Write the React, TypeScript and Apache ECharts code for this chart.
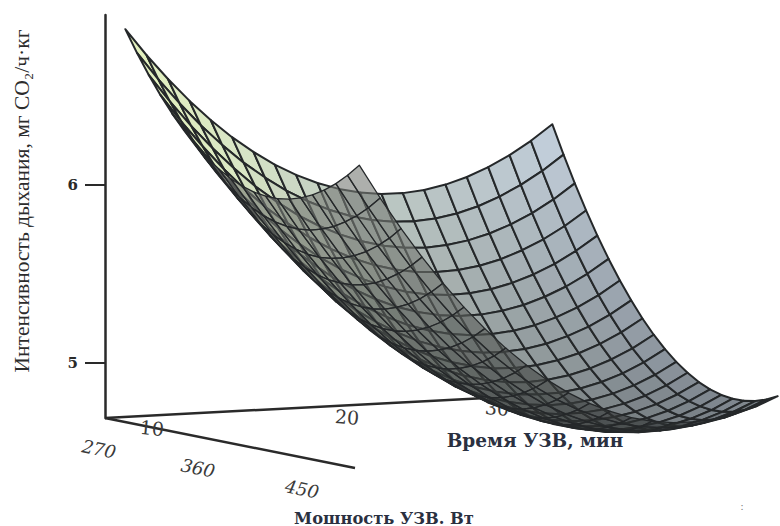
import React, { useEffect, useRef } from "react";
import * as echarts from "echarts";

const TIME = [10, 11, 12, 13, 14, 15, 16, 17, 18, 19, 20, 21, 22, 23, 24, 25, 26, 27, 28, 29, 30];
const POWER = [270, 279, 288, 297, 306, 315, 324, 333, 342, 351, 360, 369, 378, 387, 396, 405, 414, 423, 432, 441, 450];
const RATE = [
  [6.881, 6.728, 6.588, 6.460, 6.345, 6.242, 6.153, 6.075, 6.011, 5.959, 5.919, 5.892, 5.878, 5.876, 5.887, 5.911, 5.947, 5.996, 6.057, 6.131, 6.218],
  [6.761, 6.606, 6.464, 6.334, 6.217, 6.112, 6.022, 5.942, 5.876, 5.822, 5.780, 5.751, 5.735, 5.731, 5.740, 5.762, 5.796, 5.844, 5.903, 5.975, 6.060],
  [6.651, 6.494, 6.350, 6.219, 6.100, 5.993, 5.900, 5.818, 5.750, 5.695, 5.651, 5.620, 5.602, 5.596, 5.604, 5.624, 5.656, 5.701, 5.758, 5.828, 5.912],
  [6.551, 6.392, 6.247, 6.113, 5.992, 5.883, 5.789, 5.705, 5.635, 5.577, 5.532, 5.499, 5.479, 5.472, 5.477, 5.495, 5.525, 5.569, 5.624, 5.692, 5.773],
  [6.461, 6.300, 6.153, 6.017, 5.894, 5.784, 5.687, 5.602, 5.530, 5.470, 5.423, 5.388, 5.366, 5.357, 5.360, 5.376, 5.405, 5.446, 5.499, 5.566, 5.645],
  [6.381, 6.218, 6.069, 5.931, 5.807, 5.694, 5.596, 5.508, 5.435, 5.373, 5.323, 5.287, 5.263, 5.252, 5.253, 5.268, 5.294, 5.334, 5.385, 5.450, 5.527],
  [6.311, 6.147, 5.995, 5.856, 5.729, 5.615, 5.514, 5.425, 5.349, 5.286, 5.234, 5.196, 5.170, 5.157, 5.157, 5.169, 5.194, 5.231, 5.281, 5.343, 5.419],
  [6.251, 6.085, 5.931, 5.790, 5.662, 5.545, 5.443, 5.351, 5.274, 5.209, 5.155, 5.115, 5.088, 5.072, 5.070, 5.080, 5.103, 5.139, 5.186, 5.247, 5.321],
  [6.201, 6.033, 5.877, 5.734, 5.604, 5.486, 5.381, 5.288, 5.209, 5.141, 5.086, 5.044, 5.015, 4.997, 4.993, 5.002, 5.023, 5.056, 5.102, 5.161, 5.232],
  [6.161, 5.991, 5.834, 5.688, 5.556, 5.436, 5.330, 5.235, 5.153, 5.084, 5.027, 4.983, 4.952, 4.933, 4.926, 4.933, 4.952, 4.984, 5.028, 5.084, 5.154],
  [6.131, 5.959, 5.800, 5.653, 5.519, 5.396, 5.288, 5.191, 5.108, 5.037, 4.978, 4.932, 4.899, 4.878, 4.870, 4.874, 4.891, 4.921, 4.963, 5.018, 5.086],
  [6.111, 5.937, 5.776, 5.627, 5.491, 5.367, 5.257, 5.158, 5.073, 5.000, 4.939, 4.891, 4.856, 4.833, 4.823, 4.826, 4.841, 4.869, 4.909, 4.962, 5.028],
  [6.101, 5.925, 5.762, 5.611, 5.473, 5.347, 5.235, 5.135, 5.048, 4.973, 4.910, 4.860, 4.823, 4.798, 4.786, 4.787, 4.800, 4.826, 4.864, 4.916, 4.980],
  [6.101, 5.923, 5.758, 5.606, 5.466, 5.338, 5.224, 5.121, 5.032, 4.956, 4.891, 4.839, 4.800, 4.773, 4.759, 4.759, 4.770, 4.794, 4.830, 4.879, 4.941],
  [6.111, 5.931, 5.765, 5.610, 5.468, 5.338, 5.223, 5.118, 5.027, 4.948, 4.882, 4.828, 4.787, 4.758, 4.743, 4.740, 4.749, 4.771, 4.806, 4.853, 4.913],
  [6.131, 5.949, 5.781, 5.624, 5.480, 5.349, 5.231, 5.124, 5.032, 4.951, 4.882, 4.827, 4.784, 4.754, 4.736, 4.731, 4.739, 4.759, 4.791, 4.837, 4.895],
  [6.161, 5.977, 5.807, 5.648, 5.503, 5.369, 5.250, 5.141, 5.047, 4.964, 4.893, 4.836, 4.791, 4.759, 4.739, 4.733, 4.738, 4.756, 4.787, 4.830, 4.887],
  [6.201, 6.016, 5.843, 5.683, 5.535, 5.400, 5.278, 5.168, 5.071, 4.987, 4.914, 4.855, 4.808, 4.774, 4.752, 4.744, 4.747, 4.764, 4.793, 4.834, 4.889],
  [6.251, 6.064, 5.889, 5.727, 5.577, 5.440, 5.317, 5.204, 5.106, 5.020, 4.945, 4.884, 4.835, 4.799, 4.776, 4.765, 4.767, 4.782, 4.808, 4.848, 4.900],
  [6.311, 6.122, 5.945, 5.781, 5.630, 5.491, 5.365, 5.251, 5.151, 5.062, 4.986, 4.923, 4.873, 4.834, 4.809, 4.797, 4.796, 4.809, 4.834, 4.871, 4.922],
  [6.381, 6.190, 6.012, 5.845, 5.692, 5.551, 5.424, 5.308, 5.205, 5.115, 5.037, 4.972, 4.920, 4.879, 4.852, 4.838, 4.836, 4.847, 4.869, 4.905, 4.954],
];
const Z_TICKS = [5, 6];
const Y_TITLE = "Интенсивность дыхания, мг CO₂/ч·кг";
const TIME_TITLE = "Время УЗВ, мин";
const POWER_TITLE = "Мошность УЗВ. Вт";
const TIME_LABELS = ["10", "20", "30"];
const POWER_LABELS = ["270", "360", "450"];

const clamp = (a: number) => Math.max(0, Math.min(1, a));
const mix = (a: number[], b: number[], k: number) => a.map((c, n) => c + (b[n] - c) * k);

function project(t: number, p: number, z: number): number[] {
  const u = (t - 10) / 20;
  const v = (p - 270) / 180;
  return [t + 10.96 * v - 0.4 * u * v, z + (23 * u - 47 * v - 1) / 178];
}

function renderCell(_: any, api: any) {
  const t = api.value(0);
  const p = api.value(1);
  const z = [api.value(2), api.value(3), api.value(4), api.value(5)];
  const pts = [
    api.coord(project(t, p, z[0])),
    api.coord(project(t + 1, p, z[1])),
    api.coord(project(t + 1, p + 9, z[2])),
    api.coord(project(t, p + 9, z[3])),
  ];
  let area = 0;
  for (let n = 0; n < 4; n++) {
    const a = pts[n];
    const b = pts[(n + 1) % 4];
    area += a[0] * b[1] - b[0] * a[1];
  }
  area /= 2;
  const front = area > 0;
  const u = (t - 10) / 20;
  const avg = (z[0] + z[1] + z[2] + z[3]) / 4;
  let fill: string;
  if (front) {
    const base = u < 0.5
      ? mix([226, 240, 190], [204, 216, 208], u / 0.5)
      : mix([204, 216, 208], [192, 204, 218], (u - 0.5) / 0.5);
    const tone = avg > 5 ? 0.72 + 0.28 * clamp((avg - 5) / 1.1) : 0.72 - (5 - avg) * 0.45;
    const sq = Math.max(clamp(area / 110), clamp((avg - 5.2) / 0.5));
    const k = tone * (0.5 + 0.5 * sq);
    const c = base.map((x) => Math.round(x * k));
    fill = `rgb(${c[0]},${c[1]},${c[2]})`;
  } else {
    const hi = clamp((avg - 4.75) / 1.1);
    const c = mix([42, 45, 46], [118, 122, 116], hi).map(Math.round);
    fill = `rgba(${c[0]},${c[1]},${c[2]},0.6)`;
  }
  return {
    type: "polygon",
    shape: { points: pts },
    z2: front ? 1 : 10,
    style: {
      fill,
      stroke: "#25282a",
      lineWidth: front ? 2 : 1.3,
      lineJoin: "round",
    },
  };
}

const serif = "'Liberation Serif', serif";
const wideSerif = "'DejaVu Serif', serif";

function floorText(text: string, x: number, y: number, rotation: number, italic: boolean, size: number) {
  return {
    type: "text",
    x,
    y,
    rotation,
    silent: true,
    style: {
      text,
      fill: "#3a3a3a",
      font: `${italic ? "italic " : ""}${size}px ${wideSerif}`,
      textAlign: "center",
      textVerticalAlign: "middle",
    },
  };
}

export default function App() {
  const ref = useRef<HTMLDivElement>(null);
  useEffect(() => {
    const chart = echarts.init(ref.current!, undefined, { renderer: "svg" });
    const cells: number[][] = [];
    for (let j = 0; j < POWER.length - 1; j++) {
      for (let i = 0; i < TIME.length - 1; i++) {
        cells.push([TIME[i], POWER[j], RATE[j][i], RATE[j][i + 1], RATE[j + 1][i + 1], RATE[j + 1][i]]);
      }
    }
    chart.setOption({
      animation: false,
      backgroundColor: "#fff",
      grid: { left: 105, right: 0, top: 15, bottom: 108 },
      xAxis: { type: "value", show: false, min: 9.05, max: 40.667 },
      yAxis: {
        type: "value",
        min: 4.691,
        max: 6.955,
        position: "left",
        splitLine: { show: false },
        axisLine: { show: true, lineStyle: { color: "#2a2a2a", width: 2.5 } },
        axisTick: { show: true, customValues: Z_TICKS, length: 20, lineStyle: { color: "#2a2a2a", width: 2 } },
        axisLabel: {
          customValues: Z_TICKS,
          formatter: (v: number) => String(v),
          color: "#2a2a2a",
          fontFamily: wideSerif,
          fontWeight: "bold",
          fontSize: 15,
          margin: 27,
        },
      },
      graphic: [
        { type: "line", silent: true, z: 0, shape: { x1: 105, y1: 418, x2: 525, y2: 396 }, style: { stroke: "#2a2a2a", lineWidth: 2.5 } },
        { type: "line", silent: true, z: 0, shape: { x1: 105, y1: 418, x2: 355, y2: 468 }, style: { stroke: "#2a2a2a", lineWidth: 2.5 } },
        floorText(TIME_LABELS[0], 152, 428, -0.1, false, 19),
        floorText(TIME_LABELS[1], 347, 417, -0.08, false, 19),
        floorText(TIME_LABELS[2], 497, 408, -0.08, false, 19),
        floorText(POWER_LABELS[0], 99, 449, -0.2, true, 18),
        floorText(POWER_LABELS[1], 198, 468, -0.2, true, 18),
        floorText(POWER_LABELS[2], 302, 489, -0.2, true, 18),
        { type: "text", silent: true, x: 22, y: 201, rotation: Math.PI / 2, style: { text: Y_TITLE, fill: "#2c2c2c", font: `21.5px ${serif}`, textAlign: "center", textVerticalAlign: "middle" } },
        { type: "text", silent: true, x: 535, y: 440, style: { text: TIME_TITLE, fill: "#2a3040", font: `bold 18.5px ${wideSerif}`, textAlign: "center", textVerticalAlign: "middle" } },
        { type: "text", silent: true, x: 384, y: 518, style: { text: POWER_TITLE, fill: "#2a3040", font: `bold 16.3px ${wideSerif}`, textAlign: "center", textVerticalAlign: "middle" } },
        { type: "text", silent: true, x: 742, y: 506, style: { text: ":", fill: "#777", font: `11px ${serif}`, textAlign: "center", textVerticalAlign: "middle" } },
      ],
      series: [
        {
          type: "custom",
          silent: true,
          clip: false,
          renderItem: renderCell,
          encode: { x: 0, y: 2 },
          data: cells,
        },
      ],
    });
    return () => chart.dispose();
  }, []);
  return <div ref={ref} style={{ position: "fixed", left: 0, top: 0, width: 780, height: 526 }} />;
}
